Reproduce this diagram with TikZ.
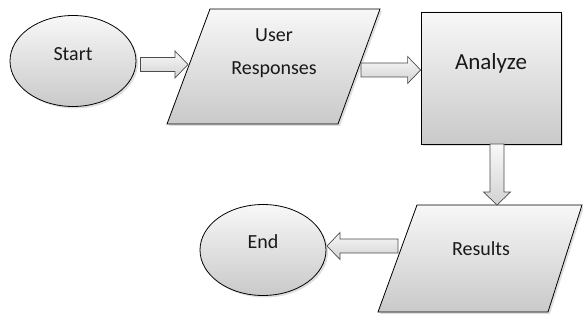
\documentclass[tikz,border=0pt]{standalone}
\usepackage{fontspec}
\setmainfont{Carlito}
\usetikzlibrary{shapes.geometric,shadows,calc}
\begin{document}
\begin{tikzpicture}[x=1pt,y=-1pt,
  shapefill/.style={draw=black, line width=0.8pt, top color=gray!6, bottom color=gray!42,
    drop shadow={opacity=0.25, shadow xshift=2pt, shadow yshift=-2pt}},
  ovalbox/.style={shapefill, ellipse, minimum width=126pt, minimum height=91pt, inner sep=0pt},
  procbox/.style={shapefill, rectangle, minimum width=140pt, minimum height=132pt, inner sep=0pt},
  txt/.style={font=\fontsize{20}{33}\selectfont, text=black!90, align=center, inner sep=0pt},
  blockarrow/.style={draw=gray!60!black, line width=0.7pt, top color=gray!5, bottom color=gray!35,
    to path={
      ($(\tikztostart)!7pt!90:(\tikztotarget)$)
      -- ($(\tikztotarget)!13pt!(\tikztostart)!7pt!-90:(\tikztostart)$)
      -- ($(\tikztotarget)!13pt!(\tikztostart)!13.5pt!-90:(\tikztostart)$)
      -- (\tikztotarget)
      -- ($(\tikztotarget)!13pt!(\tikztostart)!13.5pt!90:(\tikztostart)$)
      -- ($(\tikztotarget)!13pt!(\tikztostart)!7pt!90:(\tikztostart)$)
      -- ($(\tikztostart)!7pt!-90:(\tikztotarget)$)
      -- cycle}}
]
\useasboundingbox (0,0) rectangle (583,323);

% shapes
\node[ovalbox] (start) at (73,61) {};
\path[shapefill] (210,9) -- (380,9) -- (338,124) -- (167,124) -- cycle;
\coordinate (user) at (274,66.5);
\node[procbox] (analyze) at (491,78) {};
\path[shapefill] (417,205) -- (582,205) -- (548,312) -- (378,312) -- cycle;
\coordinate (results) at (481,258.5);
\node[ovalbox] (end) at (263,250) {};

% texts
\node[txt] (tstart) at ($(start)+(0,-7)$) {Start};
\node[txt] (tuser) at ($(user)+(0,-13)$) {User\\Responses};
\node[txt, font=\fontsize{23}{26}\selectfont] (tanalyze) at ($(analyze)+(0,-15)$) {Analyze};
\node[txt] (tresults) at ($(results)+(0,-10)$) {Results};
\node[txt] (tend) at ($(end)+(0,-8)$) {End};

% connector end points
\coordinate (a1s) at ($(start.east)+(4,3.5)$);
\coordinate (a1t) at (188,64.5);
\coordinate (a2s) at (361,70);
\coordinate (a2t) at (analyze.west |- a2s);
\coordinate (a3s) at (497,144);
\coordinate (a3t) at (497,205);
\coordinate (a4s) at (398,246);
\coordinate (a4t) at (327,246);

\draw[blockarrow] (a1s) to (a1t);
\draw[blockarrow] (a2s) to (a2t);
\draw[blockarrow] (a3s) to (a3t);
\draw[blockarrow] (a4s) to (a4t);
\end{tikzpicture}
\end{document}
